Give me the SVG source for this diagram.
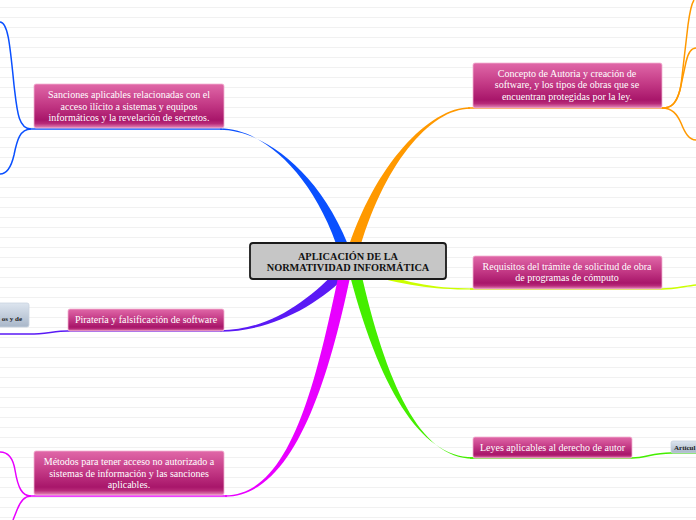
<svg xmlns="http://www.w3.org/2000/svg" width="696" height="520" viewBox="0 0 696 520">
<defs>
<pattern id="bg" width="696" height="10" patternUnits="userSpaceOnUse" y="0">
<rect width="696" height="10" fill="#ffffff"/>
<line x1="0" y1="7.5" x2="696" y2="7.5" stroke="#f1f1f1" stroke-width="1"/>
</pattern>
<linearGradient id="pink" x1="0" y1="0" x2="0" y2="1">
<stop offset="0" stop-color="#e068a8"/>
<stop offset="0.45" stop-color="#c43a86"/>
<stop offset="0.82" stop-color="#a8166a"/>
<stop offset="0.9" stop-color="#b82a79"/>
<stop offset="1" stop-color="#e58cba"/>
</linearGradient>
<linearGradient id="grey" x1="0" y1="0" x2="0" y2="1">
<stop offset="0" stop-color="#dde5ef"/>
<stop offset="1" stop-color="#a9b7c9"/>
</linearGradient>
<style>
.node rect.box{fill:url(#pink);stroke:#f2b3d2;stroke-width:0.8}
.node text{font-family:"Liberation Serif","Times New Roman",serif;font-size:10px;fill:#ffffff;text-anchor:middle}
.sub rect{fill:url(#grey);stroke:#c9d3df;stroke-width:0.8}
.sub text{font-family:"Liberation Serif","Times New Roman",serif;font-size:7px;font-weight:bold;fill:#222222}
.thin{fill:none;stroke-width:1.5}
</style>
</defs>
<rect width="696" height="520" fill="url(#bg)"/>

<g id="connectors">
<!-- main tapered branches -->
<path d="M220,128.3 C262,128.3 314,173 340,255 L352,255 C322,171 262,129.7 220,129.7 Z" fill="#0a50ff"/>
<path d="M470,107.3 C430,107.3 374,164 346,255 L358,255 C382,166 430,108.7 470,108.7 Z" fill="#ff9900"/>
<path d="M473,288.4 C430,288.4 405,282 360,267 L360,273 C405,285 430,289.6 473,289.6 Z" fill="#ccff00"/>
<path d="M220,330.3 C268,330.3 308,302 341,266 L350,272 C316,308 268,331.7 220,331.7 Z" fill="#5a1af5"/>
<path d="M225,495.3 C290,495.3 316,384 340,268 L352,268 C328,386 292,496.7 225,496.7 Z" fill="#e800ff"/>
<path d="M473,457.3 C420,457.3 378,386 348,268 L360,268 C386,384 420,458.7 473,458.7 Z" fill="#44ee00"/>
<!-- underlines along nodes -->
<line class="thin" x1="31" y1="129" x2="222" y2="129" stroke="#0a50ff"/>
<line class="thin" x1="468" y1="108" x2="662" y2="108" stroke="#ff9900"/>
<path class="thin" d="M470,289 L662,289 C675,289 685,286 696,285" stroke="#ccff00"/>
<path class="thin" d="M222,331 L68,331 C55,331 45,334 30,334 L0,334" stroke="#5a1af5"/>
<line class="thin" x1="31" y1="496" x2="227" y2="496" stroke="#e800ff"/>
<path class="thin" d="M470,458 L632,458 C646,458 652,453 671,453 L696,453" stroke="#44ee00"/>
<!-- sub branches -->
<path class="thin" d="M31,129 C18,129 17,110 14,85 C10,45 8,22 0,22" stroke="#0a50ff"/>
<path class="thin" d="M31,129 C20,129 17,140 14,155 C11,168 6,174 0,174" stroke="#0a50ff"/>
<path class="thin" d="M662,108 C672,108 678,102 681,85 L688,25 C690,10 692,3 694,0" stroke="#ff9900"/>
<path class="thin" d="M662,108 C672,108 676,104 680,90 L686,62 C688,53 691,48 696,48" stroke="#ff9900"/>
<path class="thin" d="M662,108 C672,108 677,114 681,123 C685,133 689,140 696,140" stroke="#ff9900"/>
<path class="thin" d="M31,496 C22,496 18,488 15,470 C13,458 8,452 0,452" stroke="#e800ff"/>
<path class="thin" d="M31,496 C24,496 20,502 17,510 L13,520" stroke="#e800ff"/>
</g>

<g id="central">
<rect x="250" y="243" width="196" height="36" rx="3" fill="#c6c6c6" stroke="#1a1a1a" stroke-width="1.8"/>
<text x="348" y="260" font-family="Liberation Serif, Times New Roman, serif" font-size="10.3" font-weight="bold" fill="#111111" text-anchor="middle">APLICACIÓN DE LA</text>
<text x="348" y="271" font-family="Liberation Serif, Times New Roman, serif" font-size="10.3" font-weight="bold" fill="#111111" text-anchor="middle">NORMATIVIDAD INFORMÁTICA</text>
</g>

<g id="node-sanciones" class="node">
<rect class="box" x="34" y="84" width="190" height="44" rx="2"/>
<text x="129" y="98">Sanciones aplicables relacionadas con el</text>
<text x="129" y="109.5">acceso ilícito a sistemas y equipos</text>
<text x="129" y="121">informáticos y la revelación de secretos.</text>
</g>

<g id="node-concepto" class="node">
<rect class="box" x="473" y="63" width="189" height="45" rx="2"/>
<text x="567" y="76.5">Concepto de Autoria y creación de</text>
<text x="567" y="88">software, y los tipos de obras que se</text>
<text x="567" y="99.5">encuentran protegidas por la ley.</text>
</g>

<g id="node-requisitos" class="node">
<rect class="box" x="473" y="256" width="189" height="33" rx="2"/>
<text x="567" y="269.5">Requisitos del trámite de solicitud de obra</text>
<text x="567" y="281">de programas de cómputo</text>
</g>

<g id="node-leyes" class="node">
<rect class="box" x="473" y="437" width="159" height="21" rx="2"/>
<text x="552.5" y="451">Leyes aplicables al derecho de autor</text>
</g>

<g id="node-pirateria" class="node">
<rect class="box" x="68" y="309" width="156" height="22" rx="2"/>
<text x="146" y="323">Piratería y falsificación de software</text>
</g>

<g id="node-metodos" class="node">
<rect class="box" x="34" y="451" width="190" height="44" rx="2"/>
<text x="129" y="465">Métodos para tener acceso no autorizado a</text>
<text x="129" y="476.5">sistemas de información y las sanciones</text>
<text x="129" y="488">aplicables.</text>
</g>

<g id="node-left-sub" class="sub">
<rect x="-10" y="303" width="39" height="24" rx="2"/>
<text x="22" y="321" text-anchor="end">os y de</text>
</g>

<g id="node-right-sub" class="sub">
<rect x="671" y="441" width="34" height="12" rx="2"/>
<text x="674" y="450">Artícul</text>
</g>
</svg>
